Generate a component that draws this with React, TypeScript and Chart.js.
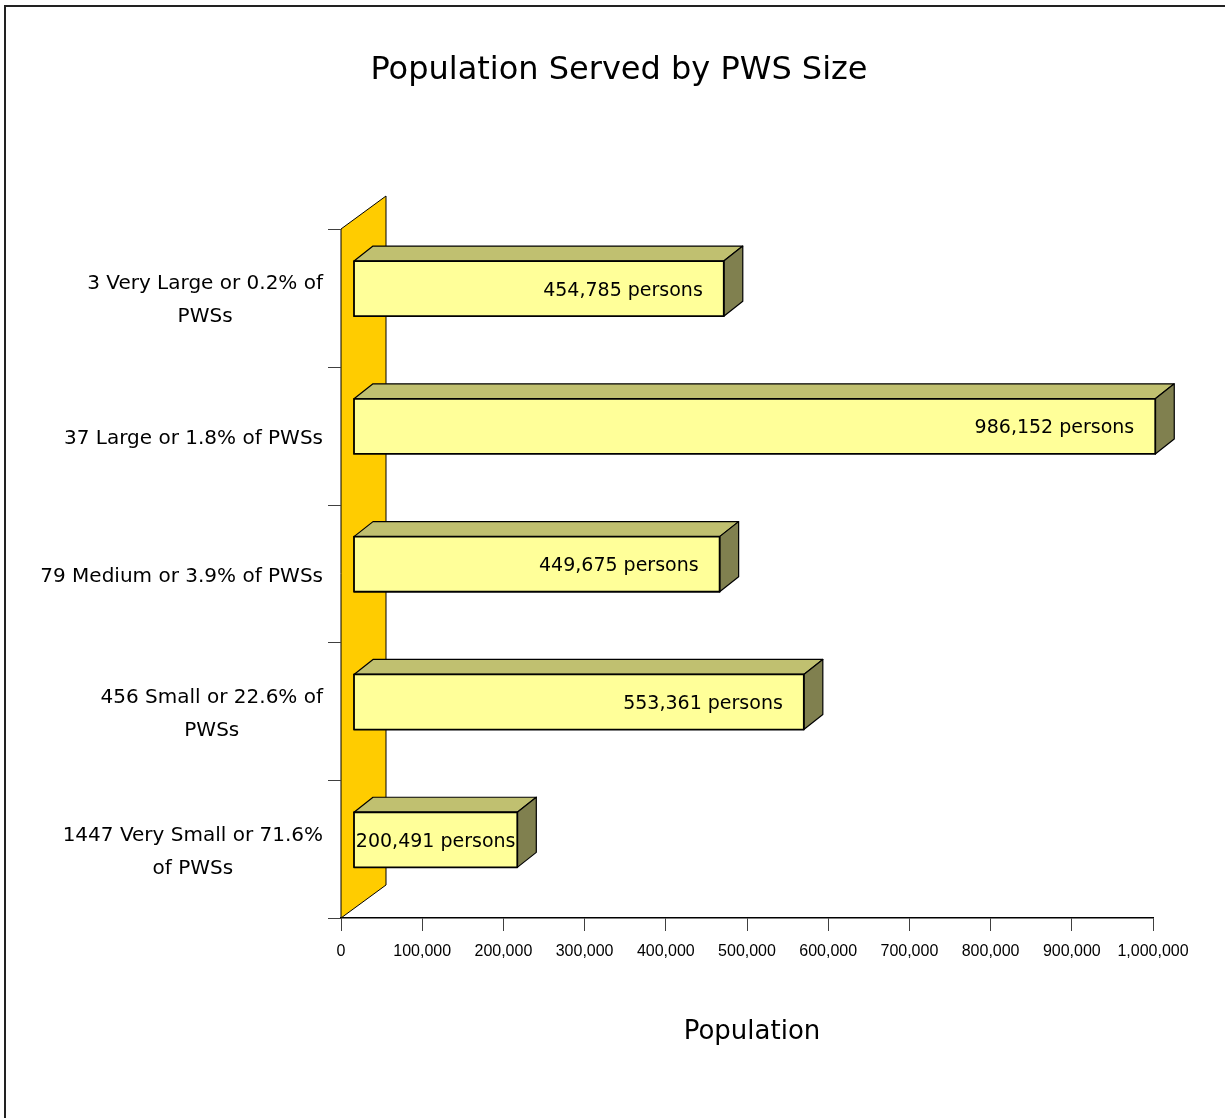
import React, { useEffect, useRef } from "react";
import { Chart, registerables } from "chart.js";

Chart.register(...registerables);

// ---------- data ----------
const categoryLines: string[][] = [
  ["3 Very Large or 0.2% of", "PWSs"],
  ["37 Large or 1.8% of PWSs"],
  ["79 Medium or 3.9% of PWSs"],
  ["456 Small or 22.6% of", "PWSs"],
  ["1447 Very Small or 71.6%", "of PWSs"],
];
const categories: string[] = categoryLines.map((l) => l.join(" "));
const populationServed: number[] = [454785, 986152, 449675, 553361, 200491];
const valueSuffix = " persons";
const chartTitle = "Population Served by PWS Size";
const xAxisTitle = "Population";
const xMin = 0;
const xMax = 1000000;
const xStep = 100000;

// ---------- styles ----------
const CASUAL = '"Comic Sans MS", "DejaVu Sans", sans-serif';
const SANS = '"Liberation Sans", Arial, sans-serif';
const WALL_DX = 45;
const WALL_DY = -33;
const BAR_DX = 19;
const BAR_DY = -15;
const FRONT_SHIFT_X = 12.5;
const FRONT_SHIFT_Y = -9.3;

function poly(ctx: CanvasRenderingContext2D, pts: number[][], fill: string, lw: number) {
  ctx.beginPath();
  ctx.moveTo(pts[0][0], pts[0][1]);
  for (let i = 1; i < pts.length; i++) ctx.lineTo(pts[i][0], pts[i][1]);
  ctx.closePath();
  ctx.fillStyle = fill;
  ctx.fill();
  ctx.lineWidth = lw;
  ctx.strokeStyle = "#000";
  ctx.stroke();
}

const decoPlugin = {
  id: "deco",
  beforeDatasetsDraw(chart: any) {
    const ctx: CanvasRenderingContext2D = chart.ctx;
    const a = chart.chartArea;
    const ys = chart.scales.y;
    ctx.save();
    // outer frame (left/top visible)
    ctx.strokeStyle = "#222";
    ctx.lineWidth = 2;
    ctx.beginPath();
    ctx.moveTo(5, 1300);
    ctx.lineTo(5, 6);
    ctx.lineTo(1300, 6);
    ctx.stroke();
    // wall
    poly(
      ctx,
      [
        [a.left, a.top],
        [a.left + WALL_DX, a.top + WALL_DY],
        [a.left + WALL_DX, a.bottom + WALL_DY],
        [a.left, a.bottom],
      ],
      "#FFCC00",
      1
    );
    // y tick marks at category boundaries
    const n = categories.length;
    const step = ys.getPixelForValue(1) - ys.getPixelForValue(0);
    ctx.strokeStyle = "#404040";
    ctx.lineWidth = 1;
    for (let i = 0; i <= n; i++) {
      const p = Math.round(ys.getPixelForValue(0) - step / 2 + i * step) + 0.5;
      ctx.beginPath();
      ctx.moveTo(a.left - 13, p);
      ctx.lineTo(a.left, p);
      ctx.stroke();
    }
    ctx.restore();
  },
  afterDatasetsDraw(chart: any) {
    const ctx: CanvasRenderingContext2D = chart.ctx;
    const meta = chart.getDatasetMeta(0);
    ctx.save();
    meta.data.forEach((el: any, i: number) => {
      const { x, y, base, height } = el.getProps(["x", "y", "base", "height"], true);
      const L = base + FRONT_SHIFT_X;
      const R = x + FRONT_SHIFT_X + 1;
      const T = y - height / 2 + FRONT_SHIFT_Y;
      const B = T + height;
      ctx.lineJoin = "round";
      poly(ctx, [[L, T], [L + BAR_DX, T + BAR_DY], [R + BAR_DX, T + BAR_DY], [R, T]], "#C0C070", 1.2);
      poly(ctx, [[R, T], [R + BAR_DX, T + BAR_DY], [R + BAR_DX, B + BAR_DY], [R, B]], "#80804F", 1.2);
      poly(ctx, [[L, T], [R, T], [R, B], [L, B]], "#FFFF99", 1.8);
      // value label
      const txt = populationServed[i].toLocaleString("en-US") + valueSuffix;
      ctx.font = `19px ${CASUAL}`;
      ctx.fillStyle = "#000";
      ctx.textBaseline = "alphabetic";
      const w = ctx.measureText(txt).width;
      const cy = (T + B) / 2 + 7;
      if (w + 8 > R - L) {
        ctx.textAlign = "center";
        ctx.fillText(txt, (L + R) / 2, cy);
      } else {
        ctx.textAlign = "right";
        ctx.fillText(txt, R - 21, cy);
      }
    });
    ctx.restore();
  },
  afterDraw(chart: any) {
    const ctx: CanvasRenderingContext2D = chart.ctx;
    const a = chart.chartArea;
    const ys = chart.scales.y;
    ctx.save();
    ctx.fillStyle = "#000";
    ctx.textBaseline = "alphabetic";
    // category labels
    ctx.font = `20px ${CASUAL}`;
    ctx.textAlign = "center";
    const lineH = 33;
    categoryLines.forEach((lines, i) => {
      const cy = ys.getPixelForValue(i);
      const bw = Math.max(...lines.map((l) => ctx.measureText(l).width));
      const cx = a.left - 18 - bw / 2;
      lines.forEach((l, k) => {
        const ly = cy + (k - (lines.length - 1) / 2) * lineH + 8;
        ctx.fillText(l, cx, ly);
      });
    });
    // title
    ctx.font = `32px ${CASUAL}`;
    ctx.fillText(chartTitle, 619, 79);
    // x axis title
    ctx.font = `26px ${CASUAL}`;
    ctx.fillText(xAxisTitle, (a.left + a.right) / 2 + 5, 1039);
    ctx.restore();
  },
};

export default function App() {
  const ref = useRef<HTMLCanvasElement | null>(null);
  useEffect(() => {
    if (!ref.current) return;
    const chart = new Chart(ref.current, {
      type: "bar",
      data: {
        labels: categories,
        datasets: [
          {
            data: populationServed,
            backgroundColor: "rgba(0,0,0,0)",
            borderWidth: 0,
            barPercentage: 0.4,
            categoryPercentage: 1,
          },
        ],
      },
      options: {
        indexAxis: "y",
        responsive: false,
        animation: false,
        devicePixelRatio: 1,
        layout: { padding: { left: 341, right: 72, top: 229, bottom: 140 } },
        plugins: { legend: { display: false }, tooltip: { enabled: false }, title: { display: false } },
        scales: {
          y: { display: false, offset: true },
          x: {
            type: "linear",
            min: xMin,
            max: xMax,
            afterFit: (scale: any) => {
              scale.height = 60;
            },
            grid: { drawOnChartArea: false, drawTicks: true, tickLength: 13, color: "#404040" },
            border: { display: true, color: "#000", width: 1.5 },
            ticks: {
              stepSize: xStep,
              autoSkip: false,
              maxRotation: 0,
              padding: 11,
              color: "#000",
              font: { family: SANS, size: 16 },
              callback: (v: any) => Number(v).toLocaleString("en-US"),
            },
          },
        },
      },
      plugins: [decoPlugin],
    } as any);
    return () => chart.destroy();
  }, []);
  return (
    <div style={{ position: "absolute", left: 0, top: 0, width: 1225, height: 1118, background: "#fff" }}>
      <canvas ref={ref} width={1225} height={1118} style={{ width: 1225, height: 1118, display: "block" }} />
    </div>
  );
}
